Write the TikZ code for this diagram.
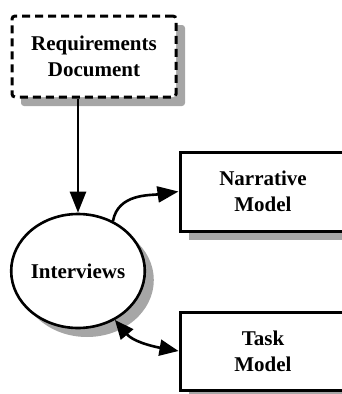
\documentclass[tikz,border=0pt]{standalone}
\usepackage{fontspec}
\setmainfont{Liberation Serif}
\usetikzlibrary{shapes.geometric,shadows,arrows.meta}
\begin{document}
\begin{tikzpicture}[x=1pt,y=-1pt,
  txt/.style={font=\fontsize{21}{26}\selectfont\bfseries, align=center, inner sep=0pt},
  shadowed/.style={drop shadow={shadow xshift=9pt, shadow yshift=-9pt, fill=gray!70, opacity=1, draw=none}},
  docbox/.style={txt, shadowed, draw, fill=white, line width=3pt, dash pattern=on 8pt off 5pt,
    rounded corners=3pt, minimum width=164pt, minimum height=81pt},
  modelbox/.style={txt, shadowed, draw, fill=white, line width=3pt,
    minimum width=166pt, minimum height=79pt},
  process/.style={txt, shadowed, ellipse, draw, fill=white, line width=2.6pt,
    minimum width=122pt, minimum height=114pt},
  flow/.style={line width=2.6pt, -{Triangle[length=21pt, width=16pt]}},
  dualflow/.style={line width=2.6pt, {Triangle[length=19pt, width=16pt]}-{Triangle[length=19pt, width=16pt]}}
]
\path[use as bounding box, clip] (0,0) rectangle (342,394);

% documents and models
\node[docbox] (req) at (94,56.5) {Requirements\\Document};
\node[process] (int) at (78,271) {Interviews};
\node[modelbox] (nar) at (263,191.5) {Narrative\\Model};
\node[modelbox, minimum height=78pt] (task) at (263,351) {Task\\Model};

% connectors
\draw[flow] (int.north |- req.south) -- (int.north);
\draw[flow] (int.55) to[out=80, in=188] (nar.west);
\draw[dualflow] (int.-53) to[out=-50, in=170] (task.west);
\end{tikzpicture}
\end{document}
